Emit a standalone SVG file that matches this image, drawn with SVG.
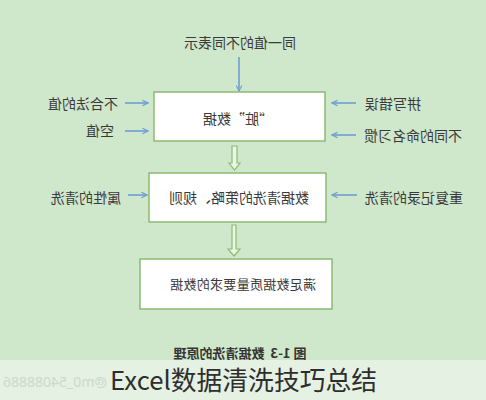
<svg xmlns="http://www.w3.org/2000/svg" width="486" height="400" viewBox="0 0 486 400">
  <style>
    .lbl { font-family: "Noto Sans CJK SC", "Noto Sans", sans-serif; font-size: 14px; fill: #3a3a3a; text-anchor: middle; dominant-baseline: central; }
    .box { fill: #ffffff; stroke: #8dbb73; stroke-width: 1.5; }
    .thin { stroke: #6d9fd2; stroke-width: 1.6; fill: none; }
    .hollow { fill: #eaf5e6; stroke: #8dbb73; stroke-width: 1.2; }
    .cap { font-family: "Noto Sans CJK SC", "Noto Sans", sans-serif; font-size: 13px; font-weight: bold; fill: #333333; text-anchor: middle; dominant-baseline: central; }
  </style>
  <defs>
    <marker id="ah" viewBox="0 0 10 10" refX="9" refY="5" markerWidth="7" markerHeight="7" orient="auto" markerUnits="userSpaceOnUse">
      <path d="M1,1 L9,5 L1,9" fill="none" stroke="#6d9fd2" stroke-width="1.6"/>
    </marker>
  </defs>
  <rect x="0" y="0" width="486" height="400" fill="#cfe7cb"/>

  <g id="connectors">
    <line class="thin" x1="239" y1="57" x2="239" y2="91" marker-end="url(#ah)"/>
    <line class="thin" x1="125" y1="103" x2="148" y2="103" marker-end="url(#ah)"/>
    <line class="thin" x1="125" y1="131" x2="148" y2="131" marker-end="url(#ah)"/>
    <line class="thin" x1="356" y1="103" x2="332" y2="103" marker-end="url(#ah)"/>
    <line class="thin" x1="356" y1="135" x2="332" y2="135" marker-end="url(#ah)"/>
    <line class="thin" x1="128" y1="195" x2="147" y2="195" marker-end="url(#ah)"/>
    <line class="thin" x1="357" y1="195" x2="332" y2="195" marker-end="url(#ah)"/>
    <path class="hollow" d="M232,146 L237,146 L237,163 L240,163 L234.5,170 L229,163 L232,163 Z"/>
    <path class="hollow" d="M232,225 L236,225 L236,249 L240,249 L234,256 L228,249 L232,249 Z"/>
  </g>

  <g id="n-top"><text class="lbl" x="240" y="42" transform="translate(480 0) scale(-1 1)">同一值的不同表示</text></g>

  <g id="n-dirty">
    <rect class="box" x="154" y="92" width="171" height="49"/>
    <text class="lbl" x="238" y="118" transform="translate(476 0) scale(-1 1)">“脏”数据</text>
  </g>
  <g id="n-illegal"><text class="lbl" x="83" y="103" transform="translate(166 0) scale(-1 1)">不合法的值</text></g>
  <g id="n-null"><text class="lbl" x="100" y="130" transform="translate(200 0) scale(-1 1)">空值</text></g>
  <g id="n-spell"><text class="lbl" x="393" y="103" transform="translate(786 0) scale(-1 1)">拼写错误</text></g>
  <g id="n-naming"><text class="lbl" x="413" y="135" transform="translate(826 0) scale(-1 1)">不同的命名习惯</text></g>

  <g id="n-strategy">
    <rect class="box" x="149" y="173" width="177" height="49"/>
    <text class="lbl" x="239" y="197" transform="translate(478 0) scale(-1 1)">数据清洗的策略、规则</text>
  </g>
  <g id="n-attr"><text class="lbl" x="86" y="197" transform="translate(172 0) scale(-1 1)">属性的清洗</text></g>
  <g id="n-dup"><text class="lbl" x="414" y="197" transform="translate(828 0) scale(-1 1)">重复记录的清洗</text></g>

  <g id="n-result">
    <rect class="box" x="140" y="259" width="192" height="50"/>
    <text class="lbl" x="243" y="283" style="font-size:13px;letter-spacing:0.3px" transform="translate(486 0) scale(-1 1)">满足数据质量要求的数据</text>
  </g>

  <g id="caption">
    <text class="cap" x="240" y="352" transform="translate(480 0) scale(-1 1)" xml:space="preserve">图 1-3  数据清洗的原理</text>
  </g>

  <rect x="0" y="360" width="486" height="40" fill="#e5f1e3"/>
  <text x="55" y="387" font-family="'Noto Sans', sans-serif" font-size="14" fill="#cdd8cb" text-anchor="middle" transform="translate(110 0) scale(-1 1)">@m0_54088886</text>
  <text x="110" y="390" font-family="'Noto Sans CJK SC', 'Noto Sans', sans-serif" font-size="26" fill="#2e2e2e" textLength="267" lengthAdjust="spacingAndGlyphs">Excel数据清洗技巧总结</text>
</svg>
